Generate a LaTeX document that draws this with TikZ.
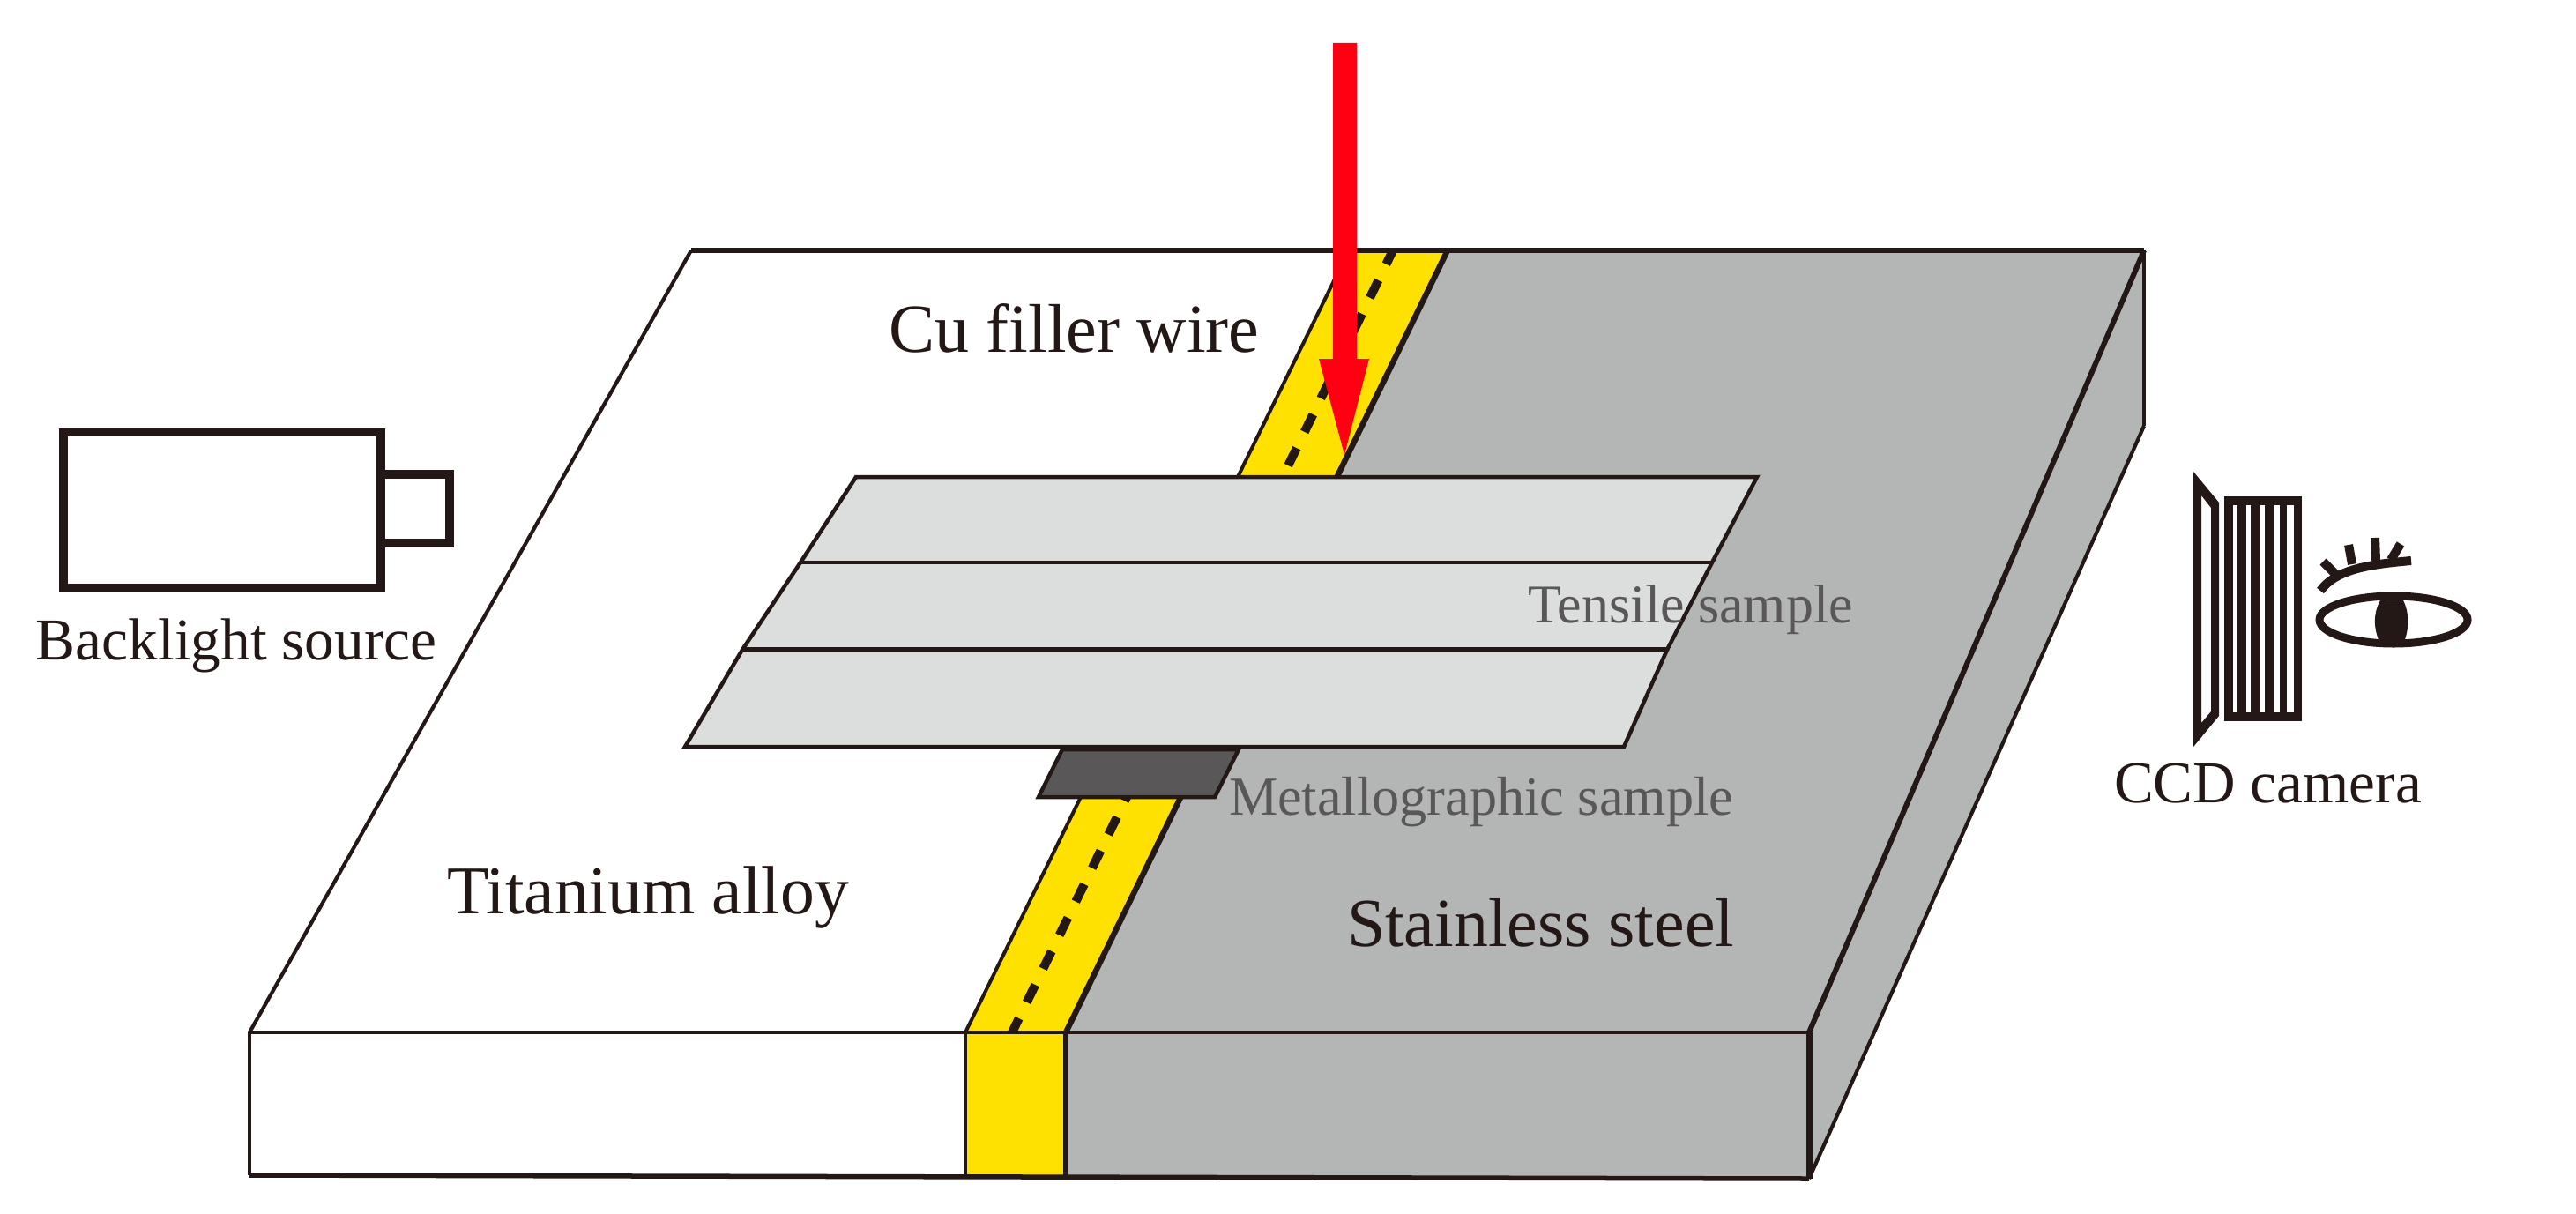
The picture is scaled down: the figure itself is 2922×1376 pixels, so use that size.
\documentclass[tikz,border=0pt]{standalone}
\usepackage{fontspec}
\setmainfont{Liberation Serif}
\definecolor{ink}{HTML}{231815}
\definecolor{steel}{HTML}{B4B5B5}
\definecolor{wire}{HTML}{FFE100}
\definecolor{samplefill}{HTML}{DCDDDD}
\definecolor{darksample}{HTML}{595757}
\definecolor{laser}{HTML}{FF0012}
\tikzset{
  ln/.style={draw=ink,line width=#1 cm/100,line join=miter},
  lbl/.style={anchor=base west,inner sep=0pt,outer sep=0pt,text=ink},
  glbl/.style={anchor=base west,inner sep=0pt,outer sep=0pt,text=darksample},
}
\begin{document}
\begin{tikzpicture}[x=0.01cm,y=-0.01cm]
\useasboundingbox[fill=white] (0,0) rectangle (2922,1376);
% key points
\coordinate (TL) at (784,284);
\coordinate (TR) at (2432,284);
\coordinate (FL) at (283,1171);
\coordinate (FR) at (2052,1171);
\coordinate (BL) at (283,1333);
\coordinate (BR) at (2052,1337);
\coordinate (RB) at (2432,483);
\coordinate (YtopL) at (1530,284);
\coordinate (YtopR) at (1642,284);
\coordinate (YmidL) at (1095,1171);
\coordinate (YmidR) at (1209,1171);
\coordinate (YbotL) at (1095,1334);
\coordinate (YbotR) at (1209,1335);
% steel fill
\fill[steel] (YtopR) -- (TR) -- (RB) -- (BR) -- (YbotR) -- (YmidR) -- cycle;
% wire fill
\fill[wire] (YtopL) -- (YtopR) -- (YmidR) -- (YbotR) -- (YbotL) -- (YmidL) -- cycle;
% dashed centre line of the wire
\begin{scope}
\clip (YtopL) -- (YtopR) -- (YmidR) -- (YmidL) -- cycle;
\draw[draw=ink,line width=0.10cm,dash pattern=on 0.22cm off 0.203cm,dash phase=0.043cm] (1148,1171) -- (1580,284);
\end{scope}
% outlines
\draw[ln=5.5] (TL) -- (TR);
\draw[ln=4.2] (TL) -- (FL);
\draw[ln=4.5] (FL) -- (FR);
\draw[ln=4] (FL) -- (BL);
\draw[ln=5.5] (BL) -- (BR);
\draw[ln=4] (YmidL) -- (YbotL);
\draw[ln=5.5] (YmidR) -- (YbotR);
\draw[ln=4] (YtopL) -- (YmidL);
\draw[ln=6.5] (YtopR) -- (YmidR);
\draw[ln=7] (FR) -- (BR);
\draw[ln=6] (FR) -- (TR);
\draw[ln=3.5] (TR) -- (RB);
\draw[ln=4.2] (RB) -- (BR);
% metallographic sample
\draw[ln=4.5,fill=darksample] (1205,850) -- (1405,850) -- (1378,904) -- (1178,904) -- cycle;
% tensile sample
\coordinate (S1) at (971,541);
\coordinate (S2) at (1993,541);
\coordinate (S3) at (1942,638);
\coordinate (S4) at (1891,737);
\coordinate (S5) at (1842,847);
\coordinate (S6) at (777,847);
\coordinate (S7) at (842,737);
\coordinate (S8) at (908,638);
\fill[samplefill] (S1) -- (S2) -- (S3) -- (S4) -- (S5) -- (S6) -- (S7) -- (S8) -- cycle;
\draw[ln=4.5] (S8) -- (S3);
\draw[ln=6.5] (S7) -- (S4);
\draw[ln=4.5] (S1) -- (S2) -- (S3) -- (S4) -- (S5) -- (S6) -- (S7) -- (S8) -- cycle;
% laser arrow
\fill[laser] (1512,49) -- (1539,49) -- (1539,407) -- (1553,407) -- (1525,516) -- (1496,407) -- (1512,407) -- cycle;
% backlight source
\draw[ln=9.5] (72,490.5) rectangle (432,667);
\draw[ln=9.5] (432,538) -- (510,538) -- (510,616) -- (432,616);
% CCD camera: lens
\fill[ink,even odd rule] (2488,535) -- (2517,570) -- (2517,812) -- (2488,847) -- cycle
  (2497,562) -- (2508,576) -- (2508,807) -- (2497,820) -- cycle;
% CCD camera: grating
\fill[ink] (2523,563) rectangle (2611,818);
\fill[white] (2533.3,573) rectangle (2538.3,808);
\fill[white] (2548.3,573) rectangle (2553.3,808);
\fill[white] (2564,573) rectangle (2569.3,808);
\fill[white] (2580,573) rectangle (2585.7,808);
\fill[white] (2594.3,573) rectangle (2601.7,808);
% eye
\draw[ln=9] (2715,703) ellipse [x radius=84,y radius=27];
\fill[ink] (2700,681) .. controls (2692,695) and (2692,712) .. (2699,728) -- (2727,728) .. controls (2733,712) and (2733,695) .. (2726,681) -- cycle;
\draw[ln=10] (2632,670) .. controls (2650,645) and (2690,640) .. (2735,636);
\draw[ln=10] (2635,637) -- (2650,652);
\draw[ln=10] (2664,618) -- (2668,640);
\draw[ln=10] (2694,610) -- (2695,636);
\draw[ln=10] (2723,617) -- (2712,635);
% labels
\node[lbl,font=\fontsize{22.2}{24}\selectfont] (cu) at (1008,399) {Cu filler wire};
\node[lbl,font=\fontsize{19.15}{22}\selectfont] (bl) at (41,748) {Backlight source};
\node[lbl,font=\fontsize{22.05}{24}\selectfont] (ti) at (507,1036) {Titanium alloy};
\node[lbl,font=\fontsize{22.15}{24}\selectfont] (ss) at (1528,1073) {Stainless steel};
\node[glbl,font=\fontsize{17.6}{20}\selectfont] (ts) at (1733,706) {Tensile sample};
\node[glbl,font=\fontsize{17.7}{20}\selectfont] (ms) at (1394,924) {Metallographic sample};
\node[lbl,font=\fontsize{19.1}{22}\selectfont] (ccd) at (2398,910) {CCD camera};
\end{tikzpicture}
\end{document}
